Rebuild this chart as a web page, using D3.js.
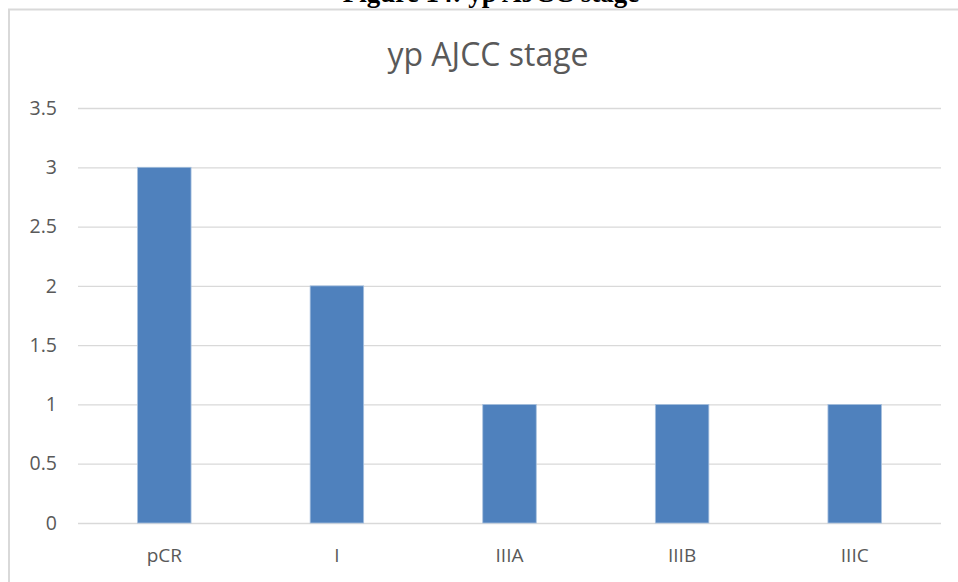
<!DOCTYPE html>
<html>
<head>
<meta charset="utf-8">
<script src="https://cdn.jsdelivr.net/npm/d3@7"></script>
<style>
  html, body { margin: 0; padding: 0; background: #fff; }
  svg { display: block; }
</style>
</head>
<body>
<svg id="chart" width="958" height="582"></svg>
<script>
// yp AJCC stage counts
const categories = ["pCR", "I", "IIIA", "IIIB", "IIIC"];
const counts = [3, 2, 1, 1, 1];
const yTicks = [0, 0.5, 1, 1.5, 2, 2.5, 3, 3.5];

const svg = d3.select("#chart");
const W = 958, H = 582;
const plot = { left: 78, right: 941, top: 108, bottom: 523 };

// figure caption above the chart frame
svg.append("text")
  .attr("x", 491).attr("y", 2)
  .attr("text-anchor", "middle")
  .attr("font-family", "'Liberation Serif', 'Times New Roman', serif")
  .attr("font-weight", "bold")
  .attr("font-size", 27)
  .attr("fill", "#000")
  .text("Figure 14: yp AJCC stage");

// chart frame
svg.append("rect")
  .attr("x", 9).attr("y", 9.5)
  .attr("width", W + 20).attr("height", H + 20)
  .attr("fill", "#fff")
  .attr("stroke", "#d9d9d9")
  .attr("stroke-width", 2);

const x = d3.scaleBand().domain(categories).range([plot.left, plot.right]).padding(0);
const y = d3.scaleLinear().domain([0, 3.5]).range([plot.bottom, plot.top]);

// horizontal gridlines and value labels
const yAxis = d3.axisLeft(y)
  .tickValues(yTicks)
  .tickSize(-(plot.right - plot.left))
  .tickPadding(21)
  .tickFormat(d3.format("~g"));

const gy = svg.append("g")
  .attr("transform", `translate(${plot.left},0)`)
  .call(yAxis);
gy.select(".domain").remove();
gy.selectAll(".tick line").attr("stroke", "#d9d9d9").attr("stroke-width", 1.3);
gy.selectAll(".tick text")
  .attr("fill", "#595959")
  .attr("font-family", "'Open Sans', sans-serif")
  .attr("font-size", 19.5);

// bars
const barW = x.bandwidth() * 0.31;
svg.append("g").selectAll("rect")
  .data(categories.map((c, i) => ({ c, v: counts[i] })))
  .join("rect")
  .attr("x", d => x(d.c) + (x.bandwidth() - barW) / 2)
  .attr("y", d => y(d.v))
  .attr("width", barW)
  .attr("height", d => y(0) - y(d.v))
  .attr("fill", "#4f81bd")
  .attr("stroke", "#a7c0de")
  .attr("stroke-width", 0.8);

// category labels
const xAxis = d3.axisBottom(x).tickSize(0).tickPadding(26);
const gx = svg.append("g")
  .attr("transform", `translate(0,${plot.bottom})`)
  .call(xAxis);
gx.select(".domain").remove();
gx.selectAll(".tick text")
  .attr("fill", "#595959")
  .attr("font-family", "'Open Sans', sans-serif")
  .attr("font-size", 19);

// chart title
svg.append("text")
  .attr("x", 488).attr("y", 66)
  .attr("text-anchor", "middle")
  .attr("font-family", "'Open Sans', sans-serif")
  .attr("font-size", 32)
  .attr("fill", "#595959")
  .text("yp AJCC stage");
</script>
</body>
</html>
